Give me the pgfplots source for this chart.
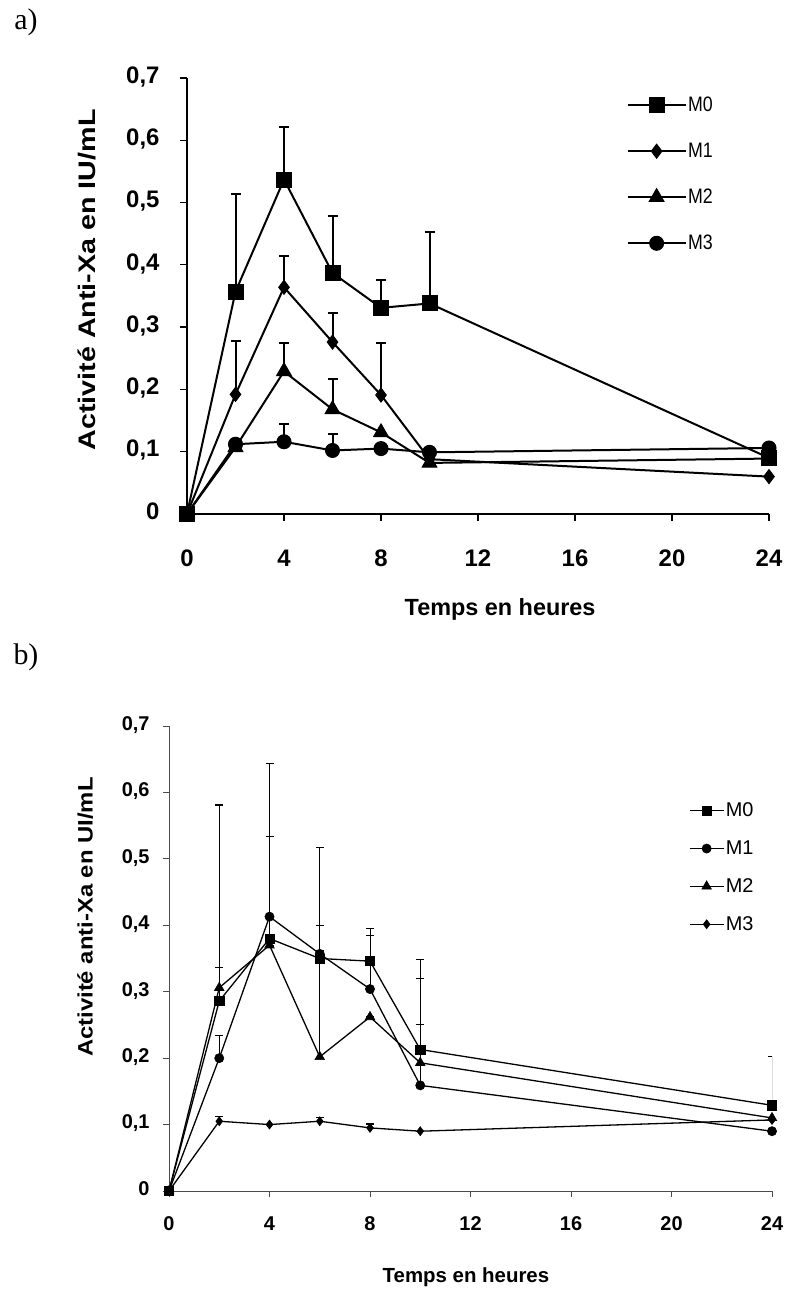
\documentclass[border=0pt]{standalone}
\usepackage{pgfplots}
\usepackage{pgfplotstable}
\pgfplotsset{compat=1.18}
\usepackage{fontspec}
\usepackage{graphicx}
\setmainfont{Liberation Sans}
\newfontfamily\timesfont{Liberation Serif}

\pgfplotstableread{
x  M0    eM0   M1    eM1   M2    eM2   M3    eM3
0  0     0     0     0     0     0     0     0
2  0.357 0.157 0.192 0.085 0.107 0     0.112 0
4  0.537 0.084 0.364 0.050 0.229 0.046 0.116 0.029
6  0.387 0.092 0.276 0.046 0.168 0.048 0.102 0.026
8  0.331 0.044 0.191 0.083 0.131 0     0.105 0
10 0.338 0.114 0.088 0     0.082 0     0.099 0
24 0.090 0.020 0.060 0     0.089 0     0.106 0
}\dataA

\pgfplotstableread{
x  M0    eM0   M1    eM1   M2    eM2   M3    eM3
0  0     0     0     0     0     0     0     0
2  0.286 0.295 0.200 0.034 0.306 0.030 0.105 0.007
4  0.380 0.154 0.413 0.231 0.370 0     0.100 0
6  0.350 0.050 0.357 0.005 0.202 0.315 0.105 0.006
8  0.346 0.049 0.304 0.081 0.262 0     0.095 0.006
10 0.213 0.135 0.159 0.092 0.193 0.127 0.090 0
24 0.129 0.073 0.090 0     0.110 0     0.107 0
}\dataB

\begin{document}
\begin{tikzpicture}
\useasboundingbox (0bp,0bp) rectangle (786bp,1293bp);
\node[anchor=center] at (26bp,1271bp) {\timesfont\fontsize{30}{32}\selectfont a)};
\node[anchor=center] at (26bp,636bp) {\timesfont\fontsize{30}{32}\selectfont b)};

% ---------------- panel a ----------------
\begin{axis}[
  at={(187bp,779bp)}, anchor=south west, scale only axis,
  width=582bp, height=436bp,
  xmin=0, xmax=24, ymin=0, ymax=0.7,
  axis x line*=bottom, axis y line*=left,
  axis line style={line width=1.3bp},
  xtick={0,4,8,12,16,20,24},
  ytick={0,0.1,0.2,0.3,0.4,0.5,0.6,0.7},
  tick align=outside, major tick length=7bp,
  tick style={line width=1.3bp, black},
  scaled y ticks=false,
  typeset ticklabels with strut,
  yticklabel style={xshift=-17bp, /pgf/number format/.cd, fixed, precision=1, use comma, assume math mode=true},
  xticklabel style={yshift=-24bp, /pgf/number format/assume math mode=true},
  ticklabel style={font=\fontsize{24}{26}\selectfont\bfseries},
  every axis y label/.style={at={(axis description cs:-0.172,0.537)}, rotate=90, anchor=center},
  every axis x label/.style={at={(axis description cs:0.538,-0.220)}, anchor=center},
  ylabel={\fontsize{24}{26}\selectfont\bfseries\scalebox{1.2}[1]{Activité Anti-Xa en IU/mL}},
  xlabel={\fontsize{23.5}{25}\selectfont\bfseries Temps en heures},
  reverse legend,
  legend style={at={(axis description cs:0.755,0.96)}, anchor=north west, draw=none, fill=none,
    inner sep=0pt, row sep=27bp, font=\fontsize{21}{23}\selectfont, nodes={inner sep=1.5bp}},
  legend cell align=left,
  legend image code/.code={\draw[mark repeat=2, mark phase=2, #1] plot coordinates {(0bp,0bp) (29bp,0bp) (58bp,0bp)};},
  every axis plot/.append style={black, line width=2bp, mark options={solid, fill=black, line width=1bp},
    error bars/y dir=plus, error bars/y explicit,
    error bars/error bar style={line width=2bp, black},
    error bars/error mark options={rotate=90, mark size=5bp, line width=2bp, black}},
]
\addplot[black, mark=*, mark size=7bp] table[x=x, y=M3, y error=eM3] {\dataA};
\addlegendentry{\scalebox{0.85}[1]{M3}}
\addplot[black, mark=triangle*, mark size=8.5bp] table[x=x, y=M2, y error=eM2] {\dataA};
\addlegendentry{\scalebox{0.85}[1]{M2}}
\addplot[black, mark=diamond*, mark size=7bp] table[x=x, y=M1, y error=eM1] {\dataA};
\addlegendentry{\scalebox{0.85}[1]{M1}}
\addplot[black, mark=square*, mark size=7.5bp] table[x=x, y=M0, y error=eM0] {\dataA};
\addlegendentry{\scalebox{0.85}[1]{M0}}
\end{axis}

% ---------------- panel b ----------------
\begin{axis}[
  at={(169bp,102bp)}, anchor=south west, scale only axis,
  width=603bp, height=465bp,
  xmin=0, xmax=24, ymin=0, ymax=0.7,
  axis x line*=bottom, axis y line*=left,
  axis line style={line width=0.8bp, black!70},
  xtick={0,4,8,12,16,20,24},
  ytick={0,0.1,0.2,0.3,0.4,0.5,0.6,0.7},
  tick align=outside, major tick length=6bp,
  tick style={line width=0.8bp, black!70},
  scaled y ticks=false,
  typeset ticklabels with strut,
  yticklabel style={xshift=-10bp, /pgf/number format/.cd, fixed, precision=1, use comma, assume math mode=true},
  xticklabel style={yshift=-15bp, /pgf/number format/assume math mode=true},
  ticklabel style={font=\fontsize{20}{22}\selectfont\bfseries},
  every axis y label/.style={at={(axis description cs:-0.139,0.589)}, rotate=90, anchor=center},
  every axis x label/.style={at={(axis description cs:0.4925,-0.185)}, anchor=center},
  ylabel={\fontsize{21}{23}\selectfont\bfseries\scalebox{1.14}[1]{Activité anti-Xa en UI/mL}},
  xlabel={\fontsize{20.5}{23}\selectfont\bfseries Temps en heures},
  legend style={at={(axis description cs:0.862,0.838)}, anchor=north west, draw=none, fill=none,
    inner sep=0pt, row sep=19.5bp, font=\fontsize{20}{22}\selectfont, nodes={inner sep=1.5bp}},
  legend cell align=left,
  legend image code/.code={\draw[mark repeat=2, mark phase=2, #1] plot coordinates {(0bp,0bp) (17bp,0bp) (34bp,0bp)};},
  every axis plot/.append style={black, line width=1.3bp, mark options={solid, fill=black, line width=0.6bp},
    error bars/y dir=plus, error bars/y explicit,
    error bars/error bar style={line width=1bp, black},
    error bars/error mark options={rotate=90, mark size=4bp, line width=1.2bp, black}},
]
\addplot[black, mark=square*, mark size=4.6bp] table[x=x, y=M0, y error=eM0] {\dataB};
\addlegendentry{M0}
\addplot[black, mark=*, mark size=4.6bp] table[x=x, y=M1, y error=eM1] {\dataB};
\addlegendentry{M1}
\addplot[black, mark=triangle*, mark size=5.5bp] table[x=x, y=M2, y error=eM2] {\dataB};
\addlegendentry{M2}
\addplot[black, mark=diamond*, mark size=4.5bp] table[x=x, y=M3, y error=eM3] {\dataB};
\addlegendentry{M3}
\end{axis}
\end{tikzpicture}
\end{document}
